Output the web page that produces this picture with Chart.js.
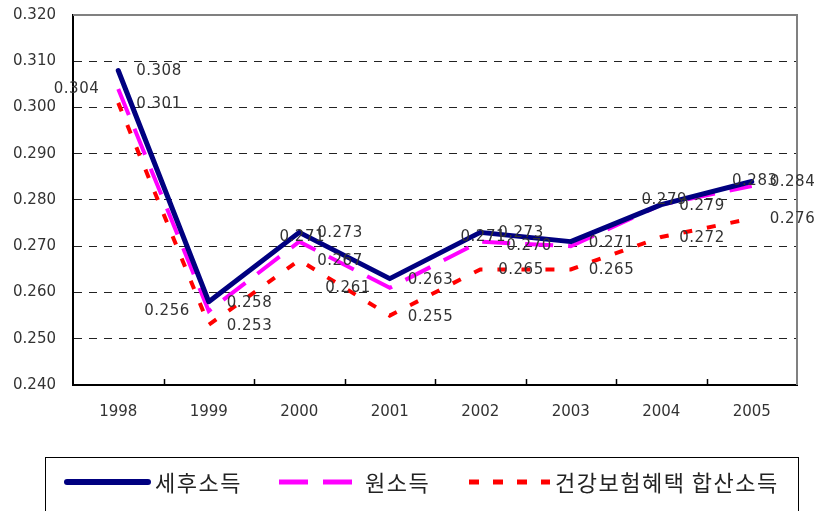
<!DOCTYPE html>
<html lang="ko">
<head>
<meta charset="UTF-8">
<title>소득 지니계수 추이</title>
<script src="https://cdn.jsdelivr.net/npm/chart.js"></script>
<style>
    body { margin: 0; background: #ffffff; }
    canvas { display: block; }
</style>
</head>
<body>
<canvas id="myChart" width="818" height="511"></canvas>
<script>
// 데이터
const years = ['1998', '1999', '2000', '2001', '2002', '2003', '2004', '2005'];
const afterTax = [0.308, 0.258, 0.273, 0.263, 0.273, 0.271, 0.279, 0.284];   // 세후소득
const original = [0.304, 0.256, 0.271, 0.261, 0.271, 0.270, 0.279, 0.283];   // 원소득
const withHealth = [0.301, 0.253, 0.267, 0.255, 0.265, 0.265, 0.272, 0.276]; // 건강보험혜택 합산소득
const seriesNames = ['세후소득', '원소득', '건강보험혜택 합산소득'];
const yMin = 0.240, yMax = 0.320, yStep = 0.010;

// 원소득 값 라벨 위치 (왼쪽 / 가운데)
const originalLabelSide = ['left', 'left', 'center', 'left', 'center', 'left', 'center', 'center'];

const NUM_FONT = '15px "DejaVu Sans", sans-serif';
const KO_FONT = '22px "Noto Sans CJK KR", sans-serif';

// 플롯 테두리와 x축 안쪽 눈금
const framePlugin = {
    id: 'frame',
    beforeDatasetsDraw(chart) {
        const { ctx, chartArea: a } = chart;
        const xs = chart.scales.x;
        ctx.save();
        ctx.strokeStyle = '#808080';
        ctx.lineWidth = 2;
        ctx.beginPath();
        ctx.moveTo(a.left, a.top);
        ctx.lineTo(a.right, a.top);
        ctx.lineTo(a.right, a.bottom);
        ctx.stroke();

        const step = xs.getPixelForValue(1) - xs.getPixelForValue(0);
        ctx.strokeStyle = '#000';
        ctx.lineWidth = 1.5;
        for (let i = 1; i < years.length; i++) {
            const x = Math.round(xs.getPixelForValue(i) - step / 2) + 0.5;
            ctx.beginPath();
            ctx.moveTo(x, a.bottom);
            ctx.lineTo(x, a.bottom - 6);
            ctx.stroke();
        }
        ctx.restore();
    }
};

// 값 라벨
const labelPlugin = {
    id: 'valueLabels',
    afterDatasetsDraw(chart) {
        const { ctx } = chart;
        ctx.save();
        ctx.font = NUM_FONT;
        ctx.letterSpacing = '0.5px';
        ctx.fillStyle = '#333';
        ctx.textBaseline = 'middle';
        chart.data.datasets.forEach((ds, di) => {
            const meta = chart.getDatasetMeta(di);
            meta.data.forEach((pt, i) => {
                const txt = ds.data[i].toFixed(3);
                if (di === 1) {
                    if (originalLabelSide[i] === 'left') {
                        ctx.textAlign = 'right';
                        ctx.fillText(txt, pt.x - 19, pt.y);
                    } else {
                        ctx.textAlign = 'center';
                        ctx.fillText(txt, pt.x + 3, pt.y - 5);
                    }
                } else {
                    ctx.textAlign = 'left';
                    ctx.fillText(txt, pt.x + 18, pt.y + 1);
                }
            });
        });
        ctx.restore();
    }
};

// 범례 (테두리 상자)
const boxLegend = {
    id: 'boxLegend',
    afterDraw(chart) {
        const { ctx } = chart;
        const ly = 482;
        ctx.save();
        ctx.strokeStyle = '#000';
        ctx.lineWidth = 1;
        ctx.strokeRect(45.5, 457.5, 753, 80);

        ctx.lineWidth = 6;
        ctx.lineCap = 'round';
        ctx.strokeStyle = '#000080';
        ctx.beginPath(); ctx.moveTo(67, ly); ctx.lineTo(148, ly); ctx.stroke();

        ctx.lineCap = 'butt';
        ctx.lineWidth = 5;
        ctx.strokeStyle = '#ff00ff';
        ctx.setLineDash([29, 15]);
        ctx.beginPath(); ctx.moveTo(279, ly); ctx.lineTo(352, ly); ctx.stroke();

        ctx.strokeStyle = '#ff0000';
        ctx.setLineDash([10, 14]);
        ctx.beginPath(); ctx.moveTo(469, ly); ctx.lineTo(550, ly); ctx.stroke();
        ctx.setLineDash([]);

        ctx.font = KO_FONT;
        ctx.letterSpacing = '1.5px';
        ctx.fillStyle = '#222';
        ctx.textAlign = 'left';
        ctx.textBaseline = 'middle';
        ctx.fillText(seriesNames[0], 155, ly + 1);
        ctx.fillText(seriesNames[1], 365, ly + 1);
        ctx.fillText(seriesNames[2], 555, ly + 1);
        ctx.restore();
    }
};

const ctx = document.getElementById('myChart').getContext('2d');
new Chart(ctx, {
    type: 'line',
    data: {
        labels: years,
        datasets: [
            {
                label: seriesNames[0],
                data: afterTax,
                borderColor: '#000080',
                borderWidth: 5,
                borderCapStyle: 'round',
                borderJoinStyle: 'round',
                order: 1
            },
            {
                label: seriesNames[1],
                data: original,
                borderColor: '#ff00ff',
                borderWidth: 4,
                borderDash: [28, 15],
                order: 2
            },
            {
                label: seriesNames[2],
                data: withHealth,
                borderColor: '#ff0000',
                borderWidth: 4,
                borderDash: [9, 15],
                order: 3
            }
        ]
    },
    options: {
        responsive: false,
        animation: false,
        devicePixelRatio: 1,
        layout: { padding: { top: 15, right: 21, left: 0, bottom: 0 } },
        elements: {
            point: { radius: 0, hoverRadius: 0 },
            line: { tension: 0, fill: false }
        },
        plugins: {
            legend: { display: false },
            tooltip: { enabled: false }
        },
        scales: {
            x: {
                offset: true,
                grid: { display: false, drawTicks: false },
                border: { display: true, color: '#000', width: 2 },
                ticks: { color: '#333', font: { family: 'DejaVu Sans', size: 15 }, padding: 18, maxRotation: 0 },
                afterFit(s) { s.height = 126; s.paddingLeft = 0; s.paddingRight = 0; }
            },
            y: {
                min: yMin,
                max: yMax,
                grid: { color: '#222', lineWidth: 1, drawTicks: false },
                border: { display: true, color: '#000', width: 2, dash: [8, 7] },
                ticks: {
                    stepSize: yStep,
                    color: '#333',
                    font: { family: 'DejaVu Sans', size: 15 },
                    padding: 17,
                    callback: v => v.toFixed(3)
                },
                afterFit(s) { s.width = 73; s.paddingTop = 0; s.paddingBottom = 0; }
            }
        }
    },
    plugins: [framePlugin, labelPlugin, boxLegend]
});
</script>
</body>
</html>
